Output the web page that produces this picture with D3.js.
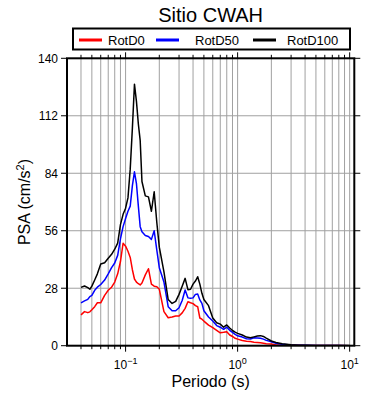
<!DOCTYPE html>
<html><head><meta charset="utf-8">
<script src="https://cdn.jsdelivr.net/npm/d3@7"></script>
<style>body{margin:0;background:#fff}svg{display:block;font-family:"Liberation Sans",Arial,sans-serif}</style>
</head><body><svg id="c" width="390" height="400"></svg>
<script>
const title = "Sitio CWAH";
const seriesNames = ["RotD0", "RotD50", "RotD100"];
const seriesColors = ["#ff0000", "#0000ff", "#000000"];
const periods = [0.04,0.043,0.046,0.048,0.05,0.053,0.056,0.06,0.065,0.07,0.075,0.08,0.085,0.09,0.095,0.1,0.105,0.11,0.115,0.12,0.125,0.13,0.135,0.14,0.15,0.16,0.17,0.18,0.19,0.2,0.22,0.24,0.26,0.28,0.3,0.32,0.34,0.36,0.38,0.4,0.42,0.44,0.46,0.48,0.5,0.55,0.6,0.65,0.7,0.75,0.8,0.85,0.9,0.95,1.0,1.1,1.2,1.3,1.4,1.5,1.6,1.7,1.8,2.0,2.2,2.5,3.0,3.5,4,5,6,7,8,10];
const rotD0 = [15,16.6,16.1,16.5,17.5,19,20.9,20.9,24.5,27,28.5,31,35,41,49.9,48.5,46,43,37,32.5,31,30.2,29.6,30.5,34.5,37.5,30,29,28.7,27.5,16.6,13.6,14,14.5,14.5,16,18.2,21.4,20.9,20.5,19.5,19,13.5,12.9,12,10,8.8,7.5,6.3,6.5,6.8,5.2,4.5,3.6,3.2,2.5,2.2,2.0,1.7,1.6,1.4,1.2,1.0,0.8,0.4,0.3,0.22,0.18,0.15,0.1,0.08,0.06,0.05,0.03];
const rotD50 = [20.9,21.8,22.6,23.9,24.5,27,28.5,29.8,32,35,38,40.3,44,52,58,62,65.5,68,78,84.7,79,68,58,55.5,53.7,53.2,51.8,56,46.6,38,31,19,17,17,18.5,22,27.1,23.3,23.1,23.3,25,25.2,22.3,20.6,17,14,12,9.8,9,8,9,7.5,6.5,5.5,4.8,4.2,3.4,3.3,3.9,3.8,3.6,3.2,2.6,1.9,1.2,0.7,0.4,0.25,0.2,0.12,0.09,0.07,0.05,0.03];
const rotD100 = [28.4,29.1,28.3,27.5,29,32,35,39.8,40.4,42.6,44.5,47,50,59,64,67,72,86,106,127.4,119,108,100,80,73,72.5,65.5,75,60,48,36,22.5,20.6,21.6,25,29,32.8,27.3,27.5,30,31.5,33.6,30,25.5,22.5,19.5,13.5,11.2,10.5,9,10.1,8.6,7.4,6.6,6.0,5.2,4.2,3.9,4.3,4.7,4.9,4.5,3.7,2.3,1.6,0.9,0.5,0.25,0.2,0.12,0.09,0.07,0.05,0.04];
const yTicks = [0,28,56,84,112,140];
const xMajor = [0.1,1,10];
const xMajorExp = ["\u22121","0","1"];
const yLabel = "PSA (cm/s";
const xLabel = "Periodo (s)";

const svg = d3.select("#c");
const L=67, R=354.3, T=58.3, B=345.7;
const x = d3.scaleLog().domain([0.03, 11]).range([L, R]);
const y = d3.scaleLinear().domain([0, 140]).range([B, T]);
const xAll = x.ticks().filter(v => v > 0.031);

// grid
const g = svg.append("g");
g.selectAll("line.gx").data(xAll).enter().append("line")
  .attr("x1", d => x(d)).attr("x2", d => x(d)).attr("y1", T).attr("y2", B)
  .attr("stroke", "#a0a0a0").attr("stroke-width", 1);
g.selectAll("line.gy").data(yTicks.slice(1, -1)).enter().append("line")
  .attr("x1", L).attr("x2", R).attr("y1", d => y(d)).attr("y2", d => y(d))
  .attr("stroke", "#a0a0a0").attr("stroke-width", 1);

// series
const series = [rotD0, rotD50, rotD100];
const line = d3.line().x(d => x(d[0])).y(d => y(d[1]));
svg.append("clipPath").attr("id","cp").append("rect").attr("x",L).attr("y",T).attr("width",R-L).attr("height",B-T);
series.forEach((s, i) => {
  svg.append("path").attr("clip-path","url(#cp)")
    .datum(periods.map((p, j) => [p, s[j]]))
    .attr("d", line).attr("fill", "none")
    .attr("stroke", seriesColors[i]).attr("stroke-width", 1.5).attr("stroke-linejoin","round");
});

// frame
svg.append("rect").attr("x", L).attr("y", T).attr("width", R - L).attr("height", B - T)
  .attr("fill", "none").attr("stroke", "#000").attr("stroke-width", 2);

// ticks
const isMajor = d => xMajor.some(m => Math.abs(m - d) < 1e-9);
[B, T].forEach((yy, k) => {
  const dir = k === 0 ? 1 : -1;
  svg.selectAll(null).data(xAll).enter().append("line")
    .attr("x1", d => x(d)).attr("x2", d => x(d))
    .attr("y1", yy).attr("y2", d => yy + dir * (isMajor(d) ? 6 : 3.5))
    .attr("stroke", "#000").attr("stroke-width", 1);
});
[L, R].forEach((xx, k) => {
  const dir = k === 0 ? -1 : 1;
  svg.selectAll(null).data(yTicks).enter().append("line")
    .attr("x1", xx).attr("x2", xx + dir * 6)
    .attr("y1", d => y(d)).attr("y2", d => y(d))
    .attr("stroke", "#000").attr("stroke-width", 1);
});

// y tick labels
svg.selectAll(null).data(yTicks).enter().append("text")
  .attr("x", L - 9).attr("y", d => y(d) + 4.3)
  .attr("text-anchor", "end").attr("font-size", 12).text(d => d);

// x tick labels
xMajor.forEach((v, i) => {
  const t = svg.append("text").attr("x", x(v)).attr("y", 369)
    .attr("text-anchor", "middle").attr("font-size", 12);
  t.append("tspan").text("10");
  t.append("tspan").attr("font-size", 9).attr("dy", -5).text(xMajorExp[i]);
});

// axis labels
svg.append("text").attr("x", (L + R) / 2).attr("y", 387).attr("text-anchor", "middle")
  .attr("font-size", 16).text(xLabel);
const yl = svg.append("text").attr("transform", `translate(30,${(T + B) / 2}) rotate(-90)`)
  .attr("text-anchor", "middle").attr("font-size", 16);
yl.append("tspan").text(yLabel);
yl.append("tspan").attr("font-size", 11).attr("dy", -6).text("2");
yl.append("tspan").attr("dy", 6).text(")");

// title
svg.append("text").attr("x", (L + R) / 2).attr("y", 22).attr("text-anchor", "middle")
  .attr("font-size", 20).text(title);

// legend
svg.append("rect").attr("x", 73).attr("y", 28.5).attr("width", 277).attr("height", 21)
  .attr("fill", "#fff").attr("stroke", "#000").attr("stroke-width", 2);
const legX = [79, 156, 253];
const legTX = [108, 195, 287];
seriesNames.forEach((n, i) => {
  svg.append("line").attr("x1", legX[i]).attr("x2", legX[i] + 23).attr("y1", 40).attr("y2", 40)
    .attr("stroke", seriesColors[i]).attr("stroke-width", 3);
  svg.append("text").attr("x", legTX[i]).attr("y", 44.5).attr("font-size", 13).text(n);
});
</script></body></html>
